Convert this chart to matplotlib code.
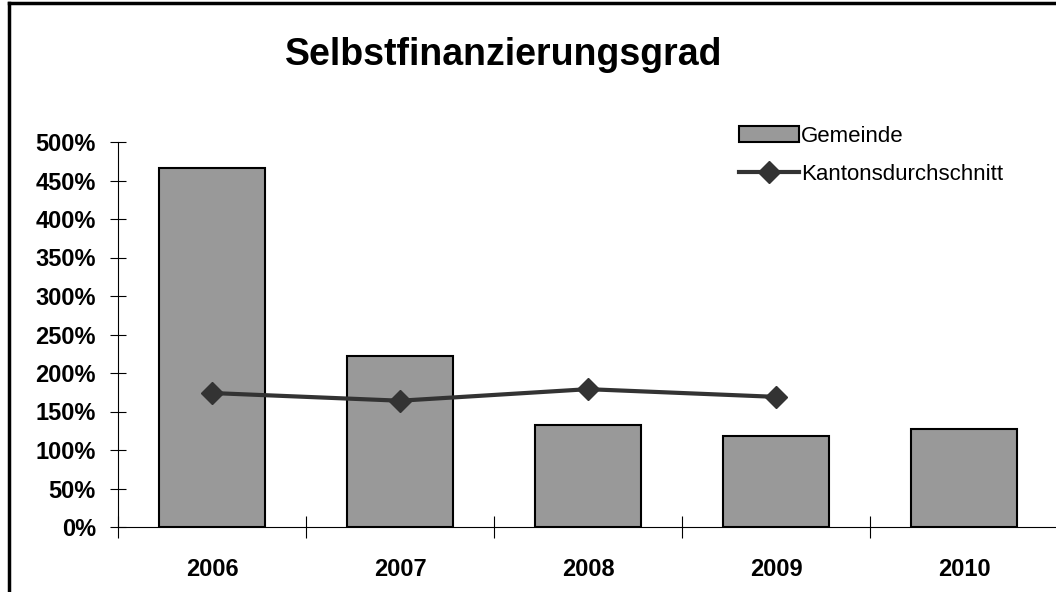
import matplotlib.pyplot as plt
from matplotlib.lines import Line2D
from matplotlib.ticker import FuncFormatter

years = ["2006", "2007", "2008", "2009", "2010"]
gemeinde = [4.66, 2.22, 1.32, 1.18, 1.27]
kanton = [1.74, 1.64, 1.79, 1.69]

plt.rcParams["font.family"] = ["Liberation Sans", "DejaVu Sans"]

fig = plt.figure(figsize=(10.56, 5.92), dpi=100)
ax = fig.add_axes([118 / 1056, 65 / 592, 940 / 1056, 385 / 592])

x = list(range(len(years)))
bars = ax.bar(x, gemeinde, width=0.565, color="#999999", edgecolor="black",
              linewidth=1.5, label="Gemeinde", zorder=2)
line, = ax.plot(x[:len(kanton)], kanton, color="#333333", linewidth=3,
                marker="D", markersize=11, label="Kantonsdurchschnitt", zorder=3)

ax.set_xlim(-0.5, 4.5)
ax.set_ylim(0, 5)
ax.set_yticks([i * 0.5 for i in range(11)])
ax.yaxis.set_major_formatter(FuncFormatter(lambda v, p: f"{v * 100:.0f}%"))
ax.set_xticks(x)
ax.set_xticklabels(years)
ax.set_xticks([i - 0.5 for i in range(len(years))], minor=True)

for s in ["top", "right"]:
    ax.spines[s].set_visible(False)
ax.spines["left"].set_linewidth(0.8)
ax.spines["bottom"].set_linewidth(0.8)

ax.tick_params(axis="y", direction="inout", length=12, width=0.8, pad=10,
               labelsize=17)
ax.tick_params(axis="x", which="major", length=0, pad=22, labelsize=17)
ax.tick_params(axis="x", which="minor", direction="inout", length=16, width=0.8)
for lbl in ax.get_yticklabels() + ax.get_xticklabels():
    lbl.set_fontweight("bold")

fig.text(504 / 1056, 1 - 55 / 592, "Selbstfinanzierungsgrad", ha="center",
         va="center", fontsize=27, fontweight="bold")

leg = ax.legend([bars, line], ["Gemeinde", "Kantonsdurchschnitt"],
                loc="upper left", bbox_to_anchor=(612 / 940, 1.065),
                frameon=False, fontsize=16, handlelength=2.7,
                handletextpad=0.1, labelspacing=0.75, borderaxespad=0)

fig.add_artist(Line2D([9 / 1056, 9 / 1056], [0, 1 - 3 / 592],
                      transform=fig.transFigure, color="black", linewidth=2.5))
fig.add_artist(Line2D([9 / 1056, 1], [1 - 3 / 592, 1 - 3 / 592],
                      transform=fig.transFigure, color="black", linewidth=2.5))

fig.savefig("out.png", dpi=100)
